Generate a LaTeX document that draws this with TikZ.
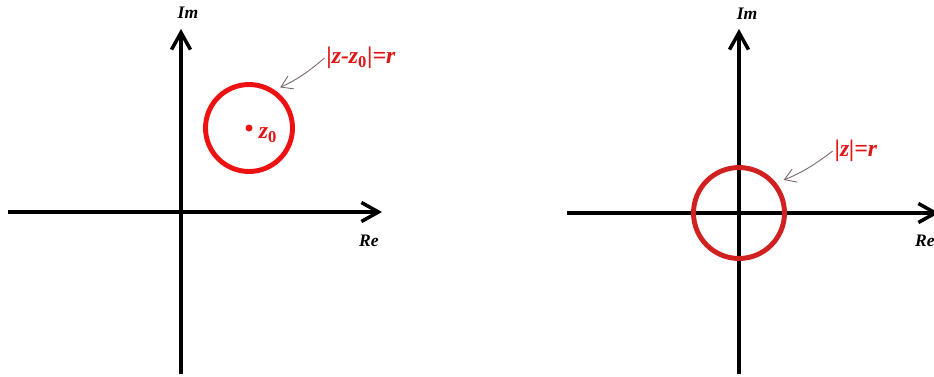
\documentclass[tikz,border=0pt]{standalone}
\usepackage{fontspec}
\setmainfont{Liberation Serif}
\usepackage{xcolor}
\usetikzlibrary{arrows.meta}
\definecolor{circRed}{HTML}{EE1111}
\definecolor{ringRed}{HTML}{D02020}
\definecolor{labelRed}{HTML}{E01515}
\definecolor{pointerGrey}{HTML}{7A6472}
\tikzset{
  axisline/.style={line width=2pt, draw=black, -{Straight Barb[length=3.4mm,width=3.8mm,line width=2pt]}},
  axislabel/.style={font=\fontsize{10}{11}\selectfont\bfseries\itshape, inner sep=1pt},
  circlepath/.style={circle, draw=#1, line width=2.8pt, inner sep=0pt},
  circlabel/.style={font=\fontsize{13.5}{15}\selectfont\bfseries\itshape, text=labelRed, inner sep=1pt},
  pointer/.style={-{Straight Barb[length=2.2mm,width=2.8mm]}, line width=0.5pt, draw=pointerGrey},
}
\begin{document}
\begin{tikzpicture}[x=0.02cm,y=-0.02cm]
  \useasboundingbox (0,0) rectangle (934,376);
  % --- left plane: shifted circle ---
  \coordinate (leftW) at (8,212);
  \coordinate (leftE) at (382,212);
  \coordinate (leftS) at (181,374);
  \coordinate (leftN) at (181,29);
  \draw[axisline] (leftW) -- (leftE);
  \draw[axisline] (leftS) -- (leftN);
  \node[axislabel] (leftIm) at (188,13) {Im};
  \node[axislabel] (leftRe) at (369,241) {Re};

  \node[circlepath=circRed, minimum size=1.74cm] (shiftCirc) at (249,128) {};
  \node[circle, fill=circRed, inner sep=0pt, minimum size=0.14cm] (zdot) at (shiftCirc.center) {};
  \node[circlabel] (zlabel) at (268,135) {z\textsubscript{\upshape 0}};
  \node[circlabel] (shiftLabel) at (361,58) {|z-z\textsubscript{\upshape 0}|=r};
  \draw[pointer, shorten >=0.12cm] (shiftLabel.west) to[bend left=8] (shiftCirc.56);

  % --- right plane: circle at origin ---
  \coordinate (rightW) at (567,213);
  \coordinate (rightE) at (939,213);
  \coordinate (rightS) at (739,374);
  \coordinate (rightN) at (739,29);
  \draw[axisline] (rightW) -- (rightE);
  \draw[axisline] (rightS) -- (rightN);
  \node[axislabel] (rightIm) at (747,14) {Im};
  \node[axislabel] (rightRe) at (925,241) {Re};

  \node[circlepath=ringRed, minimum size=1.82cm] (originCirc) at (739,213) {};
  \node[circlabel] (originLabel) at (856,151) {|z|=r};
  \draw[pointer, shorten >=0.16cm] (originLabel.west) to[bend left=8] (originCirc.39);
\end{tikzpicture}
\end{document}
